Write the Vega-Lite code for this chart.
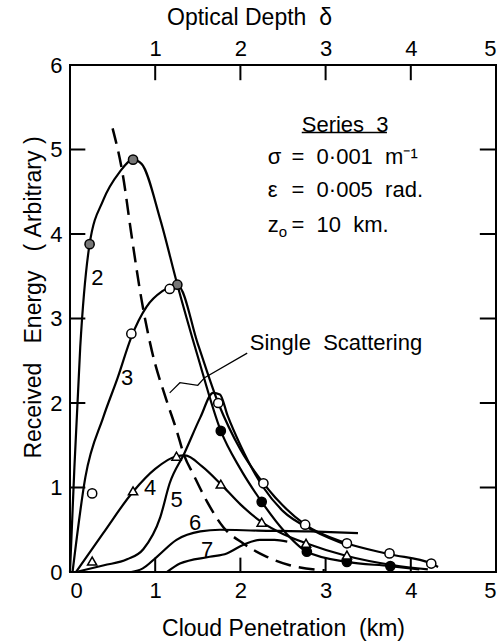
{
  "$schema": "https://vega.github.io/schema/vega-lite/v6.json",
  "width": 426,
  "height": 507,
  "autosize": {"type": "none"},
  "padding": {"left": 70, "top": 65, "right": 5, "bottom": 72},
  "background": "white",
  "config": {
    "view": {"stroke": "black", "strokeWidth": 2},
    "axis": {
      "grid": false,
      "domain": false,
      "ticks": false,
      "labelColor": "black",
      "titleColor": "black",
      "labelFont": "Liberation Sans",
      "titleFont": "Liberation Sans",
      "labelFontSize": 22,
      "titleFontSize": 23,
      "titleFontWeight": "normal"
    },
    "text": {"font": "Liberation Sans", "fontSize": 22, "color": "black"}
  },
  "datasets": {
    "curves": [
      {"c": "SS", "x": 0.50, "y": 5.25}, {"c": "SS", "x": 0.62, "y": 4.70}, {"c": "SS", "x": 0.72, "y": 4.00},
      {"c": "SS", "x": 0.84, "y": 3.22}, {"c": "SS", "x": 0.96, "y": 2.62}, {"c": "SS", "x": 1.13, "y": 2.04},
      {"c": "SS", "x": 1.25, "y": 1.68}, {"c": "SS", "x": 1.34, "y": 1.38}, {"c": "SS", "x": 1.45, "y": 1.15},
      {"c": "SS", "x": 1.61, "y": 0.83}, {"c": "SS", "x": 1.80, "y": 0.53}, {"c": "SS", "x": 2.03, "y": 0.34},
      {"c": "SS", "x": 2.31, "y": 0.18}, {"c": "SS", "x": 2.58, "y": 0.08}, {"c": "SS", "x": 2.99, "y": 0.02},

      {"c": "2", "x": 0.00, "y": 0.00}, {"c": "2", "x": 0.05, "y": 1.20}, {"c": "2", "x": 0.12, "y": 2.66},
      {"c": "2", "x": 0.23, "y": 3.88}, {"c": "2", "x": 0.39, "y": 4.40}, {"c": "2", "x": 0.58, "y": 4.73},
      {"c": "2", "x": 0.74, "y": 4.88}, {"c": "2", "x": 0.84, "y": 4.83}, {"c": "2", "x": 1.06, "y": 4.17},
      {"c": "2", "x": 1.26, "y": 3.40}, {"c": "2", "x": 1.50, "y": 2.55}, {"c": "2", "x": 1.77, "y": 1.67},
      {"c": "2", "x": 2.00, "y": 1.22}, {"c": "2", "x": 2.25, "y": 0.83}, {"c": "2", "x": 2.50, "y": 0.50},
      {"c": "2", "x": 2.78, "y": 0.24}, {"c": "2", "x": 3.25, "y": 0.12}, {"c": "2", "x": 3.76, "y": 0.07},
      {"c": "2", "x": 4.10, "y": 0.03},

      {"c": "3", "x": 0.03, "y": 0.00}, {"c": "3", "x": 0.18, "y": 1.12}, {"c": "3", "x": 0.39, "y": 1.83},
      {"c": "3", "x": 0.56, "y": 2.30}, {"c": "3", "x": 0.72, "y": 2.78}, {"c": "3", "x": 0.90, "y": 3.14},
      {"c": "3", "x": 1.08, "y": 3.32}, {"c": "3", "x": 1.17, "y": 3.37}, {"c": "3", "x": 1.27, "y": 3.38},
      {"c": "3", "x": 1.50, "y": 2.70}, {"c": "3", "x": 1.74, "y": 2.00}, {"c": "3", "x": 2.00, "y": 1.45},
      {"c": "3", "x": 2.27, "y": 1.05}, {"c": "3", "x": 2.76, "y": 0.56}, {"c": "3", "x": 3.25, "y": 0.34},
      {"c": "3", "x": 3.75, "y": 0.21}, {"c": "3", "x": 4.24, "y": 0.10}, {"c": "3", "x": 4.32, "y": 0.06},

      {"c": "4", "x": 0.07, "y": 0.00}, {"c": "4", "x": 0.39, "y": 0.46}, {"c": "4", "x": 0.74, "y": 0.95},
      {"c": "4", "x": 1.00, "y": 1.22}, {"c": "4", "x": 1.25, "y": 1.37}, {"c": "4", "x": 1.35, "y": 1.38},
      {"c": "4", "x": 1.55, "y": 1.25}, {"c": "4", "x": 1.77, "y": 1.04}, {"c": "4", "x": 2.00, "y": 0.80},
      {"c": "4", "x": 2.25, "y": 0.59}, {"c": "4", "x": 2.50, "y": 0.45}, {"c": "4", "x": 2.77, "y": 0.34},
      {"c": "4", "x": 3.25, "y": 0.19}, {"c": "4", "x": 3.80, "y": 0.08}, {"c": "4", "x": 4.20, "y": 0.03},

      {"c": "5", "x": 0.07, "y": 0.00}, {"c": "5", "x": 0.40, "y": 0.08}, {"c": "5", "x": 0.67, "y": 0.15},
      {"c": "5", "x": 0.86, "y": 0.27}, {"c": "5", "x": 1.06, "y": 0.65}, {"c": "5", "x": 1.17, "y": 1.05},
      {"c": "5", "x": 1.34, "y": 1.40}, {"c": "5", "x": 1.53, "y": 1.83}, {"c": "5", "x": 1.68, "y": 2.12},
      {"c": "5", "x": 1.76, "y": 2.10}, {"c": "5", "x": 1.85, "y": 1.85}, {"c": "5", "x": 2.00, "y": 1.50},
      {"c": "5", "x": 2.27, "y": 1.00}, {"c": "5", "x": 2.50, "y": 0.72}, {"c": "5", "x": 2.84, "y": 0.50},
      {"c": "5", "x": 3.30, "y": 0.30},

      {"c": "6", "x": 0.72, "y": 0.00}, {"c": "6", "x": 0.85, "y": 0.04}, {"c": "6", "x": 1.02, "y": 0.18},
      {"c": "6", "x": 1.25, "y": 0.38}, {"c": "6", "x": 1.53, "y": 0.48}, {"c": "6", "x": 1.76, "y": 0.50},
      {"c": "6", "x": 2.20, "y": 0.49}, {"c": "6", "x": 2.82, "y": 0.48}, {"c": "6", "x": 3.38, "y": 0.46},

      {"c": "7", "x": 1.14, "y": 0.00}, {"c": "7", "x": 1.29, "y": 0.10}, {"c": "7", "x": 1.64, "y": 0.18},
      {"c": "7", "x": 1.84, "y": 0.22}, {"c": "7", "x": 2.03, "y": 0.32}, {"c": "7", "x": 2.23, "y": 0.38},
      {"c": "7", "x": 2.40, "y": 0.38}, {"c": "7", "x": 2.55, "y": 0.36}
    ],
    "markers": [
      {"kind": "hatched", "x": 0.23, "y": 3.88}, {"kind": "hatched", "x": 0.74, "y": 4.88}, {"kind": "hatched", "x": 1.26, "y": 3.40},
      {"kind": "filled", "x": 1.77, "y": 1.67}, {"kind": "filled", "x": 2.25, "y": 0.83}, {"kind": "filled", "x": 2.78, "y": 0.24},
      {"kind": "filled", "x": 3.25, "y": 0.12}, {"kind": "filled", "x": 3.76, "y": 0.07},
      {"kind": "open", "x": 0.26, "y": 0.93}, {"kind": "open", "x": 0.72, "y": 2.82}, {"kind": "open", "x": 1.17, "y": 3.35},
      {"kind": "open", "x": 1.74, "y": 2.00}, {"kind": "open", "x": 2.27, "y": 1.05}, {"kind": "open", "x": 2.76, "y": 0.56},
      {"kind": "open", "x": 3.25, "y": 0.34}, {"kind": "open", "x": 3.75, "y": 0.22}, {"kind": "open", "x": 4.24, "y": 0.10},
      {"kind": "tri", "x": 0.26, "y": 0.13}, {"kind": "tri", "x": 0.74, "y": 0.96}, {"kind": "tri", "x": 1.25, "y": 1.37},
      {"kind": "tri", "x": 1.77, "y": 1.04}, {"kind": "tri", "x": 2.25, "y": 0.59}, {"kind": "tri", "x": 2.77, "y": 0.34},
      {"kind": "tri", "x": 3.25, "y": 0.20}
    ],
    "curveLabels": [
      {"t": "2", "x": 0.32, "y": 3.48}, {"t": "3", "x": 0.67, "y": 2.30}, {"t": "4", "x": 0.94, "y": 0.99},
      {"t": "5", "x": 1.25, "y": 0.85}, {"t": "6", "x": 1.47, "y": 0.58}, {"t": "7", "x": 1.61, "y": 0.26}
    ],
    "notes": [
      {"t": "Series\u00a0\u00a03", "x": 2.72, "y": 5.29},
      {"t": "σ", "x": 2.32, "y": 4.91}, {"t": "=\u00a0\u00a00·001\u00a0\u00a0m⁻¹", "x": 2.60, "y": 4.91},
      {"t": "ε", "x": 2.32, "y": 4.52}, {"t": "=\u00a0\u00a00·005\u00a0\u00a0rad.", "x": 2.60, "y": 4.52},
      {"t": "z", "x": 2.32, "y": 4.11}, {"t": "=\u00a0\u00a010\u00a0\u00a0km.", "x": 2.60, "y": 4.11},
      {"t": "Single\u00a0\u00a0Scattering", "x": 2.11, "y": 2.71}
    ],
    "subscripts": [{"t": "o", "x": 2.45, "y": 4.02}],
    "underline": [{"x": 2.72, "x2": 3.72, "y": 5.20}],
    "leader": [
      {"i": 1, "x": 2.08, "y": 2.59}, {"i": 2, "x": 1.58, "y": 2.30}, {"i": 3, "x": 1.50, "y": 2.21},
      {"i": 4, "x": 1.29, "y": 2.24}, {"i": 5, "x": 1.17, "y": 2.12}
    ],
    "xTicks": [{"v": 1}, {"v": 2}, {"v": 3}, {"v": 4}],
    "yTicks": [{"v": 1}, {"v": 2}, {"v": 3}, {"v": 4}, {"v": 5}]
  },
  "resolve": {"axis": {"x": "independent", "y": "independent"}},
  "layer": [
    {
      "data": {"name": "curves"},
      "transform": [{"filter": "datum.c === 'SS'"}],
      "mark": {"type": "line", "color": "black", "strokeWidth": 2.5, "strokeDash": [16, 8], "interpolate": "monotone"},
      "encoding": {
        "x": {"field": "x", "type": "quantitative", "scale": {"domain": [0, 5], "nice": false},
              "axis": {"orient": "bottom", "values": [0, 1, 2, 3, 4, 5], "labelPadding": 8,
                       "title": "Cloud\u00a0Penetration\u00a0\u00a0(km)", "titlePadding": 16}},
        "y": {"field": "y", "type": "quantitative", "scale": {"domain": [0, 6], "nice": false},
              "axis": {"orient": "left", "values": [0, 1, 2, 3, 4, 5, 6], "labelPadding": 8,
                       "title": "Received\u00a0\u00a0\u00a0Energy\u00a0\u00a0\u00a0(\u00a0Arbitrary\u00a0)",
                       "titleX": -37, "titleY": 232, "titleAlign": "center", "titleBaseline": "middle", "titleAngle": -90}}
      }
    },
    {
      "data": {"name": "curves"},
      "transform": [{"filter": "datum.c !== 'SS'"}],
      "mark": {"type": "line", "color": "black", "strokeWidth": 2.2, "interpolate": "monotone"},
      "encoding": {
        "x": {"field": "x", "type": "quantitative",
              "axis": {"orient": "top", "values": [1, 2, 3, 4, 5], "labelPadding": 5,
                       "title": "Optical\u00a0Depth\u00a0\u00a0δ", "titleFontSize": 23,
                       "titleX": 179, "titleY": -48, "titleAlign": "center", "titleBaseline": "middle"}},
        "y": {"field": "y", "type": "quantitative", "axis": null},
        "detail": {"field": "c"}
      }
    },
    {
      "data": {"name": "xTicks"},
      "mark": {"type": "rule", "color": "black", "strokeWidth": 2},
      "encoding": {
        "x": {"field": "v", "type": "quantitative", "axis": null},
        "y": {"datum": 0, "type": "quantitative", "axis": null},
        "y2": {"datum": 0.17}
      }
    },
    {
      "data": {"name": "xTicks"},
      "mark": {"type": "rule", "color": "black", "strokeWidth": 2},
      "encoding": {
        "x": {"field": "v", "type": "quantitative", "axis": null},
        "y": {"datum": 6, "type": "quantitative", "axis": null},
        "y2": {"datum": 5.82}
      }
    },
    {
      "data": {"name": "yTicks"},
      "mark": {"type": "rule", "color": "black", "strokeWidth": 2},
      "encoding": {
        "y": {"field": "v", "type": "quantitative", "axis": null},
        "x": {"datum": 0, "type": "quantitative", "axis": null},
        "x2": {"datum": 0.18}
      }
    },
    {
      "data": {"name": "yTicks"},
      "mark": {"type": "rule", "color": "black", "strokeWidth": 2},
      "encoding": {
        "y": {"field": "v", "type": "quantitative", "axis": null},
        "x": {"datum": 5, "type": "quantitative", "axis": null},
        "x2": {"datum": 4.81}
      }
    },
    {
      "data": {"name": "leader"},
      "mark": {"type": "line", "color": "black", "strokeWidth": 1.2},
      "encoding": {
        "x": {"field": "x", "type": "quantitative", "axis": null},
        "y": {"field": "y", "type": "quantitative", "axis": null},
        "order": {"field": "i"}
      }
    },
    {
      "data": {"name": "markers"},
      "mark": {"type": "point", "filled": true, "stroke": "black", "strokeWidth": 1.5, "opacity": 1, "size": 85},
      "encoding": {
        "x": {"field": "x", "type": "quantitative", "axis": null},
        "y": {"field": "y", "type": "quantitative", "axis": null},
        "shape": {"field": "kind", "type": "nominal", "legend": null,
                  "scale": {"domain": ["open", "filled", "hatched", "tri"], "range": ["circle", "circle", "circle", "triangle-up"]}},
        "fill": {"field": "kind", "type": "nominal", "legend": null,
                 "scale": {"domain": ["open", "filled", "hatched", "tri"], "range": ["white", "black", "#777777", "white"]}}
      }
    },
    {
      "data": {"name": "curveLabels"},
      "mark": {"type": "text", "align": "center", "baseline": "middle"},
      "encoding": {
        "x": {"field": "x", "type": "quantitative", "axis": null},
        "y": {"field": "y", "type": "quantitative", "axis": null},
        "text": {"field": "t"}
      }
    },
    {
      "data": {"name": "notes"},
      "mark": {"type": "text", "align": "left", "baseline": "middle"},
      "encoding": {
        "x": {"field": "x", "type": "quantitative", "axis": null},
        "y": {"field": "y", "type": "quantitative", "axis": null},
        "text": {"field": "t"}
      }
    },
    {
      "data": {"name": "subscripts"},
      "mark": {"type": "text", "align": "left", "baseline": "middle", "fontSize": 15},
      "encoding": {
        "x": {"field": "x", "type": "quantitative", "axis": null},
        "y": {"field": "y", "type": "quantitative", "axis": null},
        "text": {"field": "t"}
      }
    },
    {
      "data": {"name": "underline"},
      "mark": {"type": "rule", "color": "black", "strokeWidth": 1.5},
      "encoding": {
        "x": {"field": "x", "type": "quantitative", "axis": null},
        "x2": {"field": "x2"},
        "y": {"field": "y", "type": "quantitative", "axis": null}
      }
    }
  ]
}
